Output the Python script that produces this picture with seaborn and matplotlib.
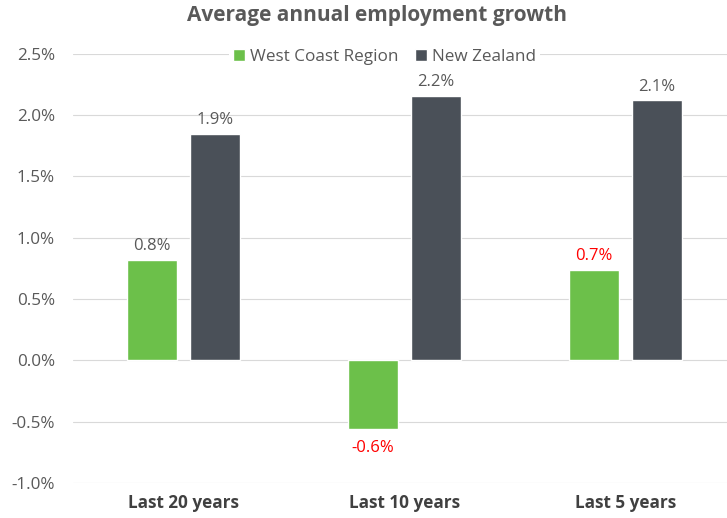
import matplotlib.pyplot as plt
import pandas as pd
import seaborn as sns
from matplotlib.ticker import FuncFormatter

periods = ['Last 20 years', 'Last 10 years', 'Last 5 years']
regions = ['West Coast Region', 'New Zealand']
west_coast = [0.82, -0.56, 0.74]
new_zealand = [1.85, 2.16, 2.12]
west_labels = ['0.8%', '-0.6%', '0.7%']
nz_labels = ['1.9%', '2.2%', '2.1%']
west_label_colors = ['#595959', '#ff0000', '#ff0000']
nz_label_colors = ['#595959', '#595959', '#595959']

sns.set_style('white')
plt.rcParams['font.family'] = ['Open Sans', 'DejaVu Sans']

df = pd.DataFrame({
    'period': periods * 2,
    'region': [regions[0]] * 3 + [regions[1]] * 3,
    'growth': west_coast + new_zealand,
})

fig = plt.figure(figsize=(7.27, 5.18), dpi=100)
ax = fig.add_axes([0.1004, 0.0676, 0.912, 0.8284])

palette = {'West Coast Region': '#6cc04a', 'New Zealand': '#4a5058'}
sns.barplot(data=df, x='period', y='growth', hue='region', palette=palette,
            width=0.57, gap=0.22, saturation=1, ax=ax, zorder=3)

# data labels
for bars, labels, colors in zip(ax.containers, [west_labels, nz_labels],
                                [west_label_colors, nz_label_colors]):
    for bar, lab, col in zip(bars, labels, colors):
        h = bar.get_height()
        x = bar.get_x() + bar.get_width() / 2
        if h >= 0:
            ax.annotate(lab, (x, h), xytext=(0, 4), textcoords='offset points',
                        ha='center', va='bottom', fontsize=12, color=col)
        else:
            ax.annotate(lab, (x, h), xytext=(0, -8), textcoords='offset points',
                        ha='center', va='top', fontsize=12, color=col)

ax.set_ylim(-1.0, 2.5)
ax.set_yticks([-1.0, -0.5, 0.0, 0.5, 1.0, 1.5, 2.0, 2.5])
ax.yaxis.set_major_formatter(FuncFormatter(lambda v, p: f'{v:.1f}%'))
ax.set_xlim(-0.5, 2.5)
ax.grid(axis='y', color='#d9d9d9', linewidth=0.8, zorder=0)
ax.set_axisbelow(True)
sns.despine(ax=ax, left=True, bottom=True)
ax.set_xlabel('')
ax.set_ylabel('')
ax.tick_params(axis='y', labelsize=12.3, labelcolor='#595959', length=0, pad=13)
ax.tick_params(axis='x', labelsize=12.3, labelcolor='#404040', length=0, pad=8)
for t in ax.get_xticklabels():
    t.set_fontweight('bold')

leg = ax.legend(loc='upper center', bbox_to_anchor=(0.47, 1.04), ncol=2, frameon=True,
                fontsize=12.3, handlelength=0.7, handleheight=0.7, handletextpad=0.3,
                columnspacing=1.0, borderpad=0.2, labelcolor='#595959')
leg.get_frame().set_edgecolor('none')
leg.get_frame().set_facecolor('white')
leg.get_frame().set_alpha(1)

fig.suptitle('Average annual employment growth', x=0.518, y=0.99, fontsize=15,
             fontweight='bold', color='#595959')

plt.savefig('out.png', dpi=100)
